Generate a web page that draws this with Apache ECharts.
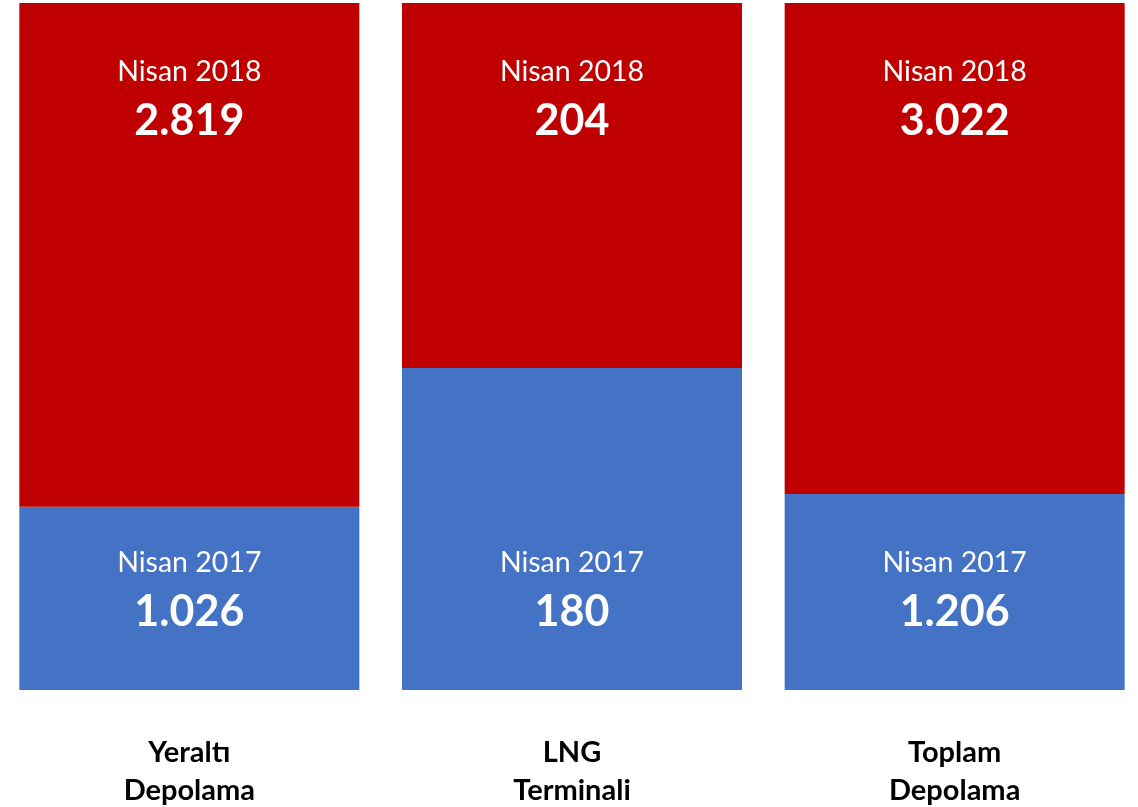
<!DOCTYPE html>
<html>
<head>
<meta charset="utf-8">
<script src="https://cdn.jsdelivr.net/npm/echarts@6/dist/echarts.min.js"></script>
<style>
  html, body { margin: 0; padding: 0; background: #fff; }
  #chart { width: 1138px; height: 807px; }
</style>
</head>
<body>
<div id="chart"></div>
<script>
// Depolama kapasitesi, Nisan 2017 vs Nisan 2018
const categories = ['Yeraltı\nDepolama', 'LNG\nTerminali', 'Toplam\nDepolama'];
const values2017 = [1026, 180, 1206];
const values2018 = [2819, 204, 3022];
const seriesNames = ['Nisan 2017', 'Nisan 2018'];

const FONT = 'Lato, "Open Sans", sans-serif';

// 100% stacked: each column normalised to its own total
const share = (arr, i) => arr[i] / (values2017[i] + values2018[i]) * 100;
const fmt = (v) => v.toLocaleString('de-DE');

function seriesData(arr) {
  return arr.map((v, i) => ({ value: share(arr, i), raw: v }));
}

function labelFor(name, position, distance) {
  return {
    show: true,
    position,
    distance,
    formatter: (p) => '{a|' + name + '}\n{b|' + fmt(p.data.raw) + '}',
    rich: {
      a: { color: '#fff', fontSize: 28.5, fontFamily: FONT, lineHeight: 46 },
      b: { color: '#fff', fontSize: 43, fontWeight: 'bold', fontFamily: FONT, lineHeight: 52 },
    },
  };
}

const chart = echarts.init(document.getElementById('chart'), null, { renderer: 'canvas' });
chart.setOption({
  backgroundColor: '#fff',
  animation: false,
  grid: { left: -2, right: -8, top: 3, bottom: 117, outerBoundsMode: 'none', containLabel: false },
  xAxis: {
    type: 'category',
    data: categories,
    axisLine: { show: false },
    axisTick: { show: false },
    axisLabel: {
      margin: 44,
      color: '#000',
      fontSize: 29,
      fontWeight: 'bold',
      fontFamily: FONT,
      lineHeight: 38,
    },
  },
  yAxis: { type: 'value', min: 0, max: 100, show: false, splitLine: { show: false } },
  series: [
    {
      name: seriesNames[0],
      type: 'bar',
      stack: 'total',
      barWidth: 340,
      itemStyle: { color: '#4472C4' },
      label: labelFor(seriesNames[0], 'insideBottom', 52),
      data: seriesData(values2017),
    },
    {
      name: seriesNames[1],
      type: 'bar',
      stack: 'total',
      barWidth: 340,
      itemStyle: { color: '#C00000' },
      label: labelFor(seriesNames[1], 'insideTop', 46),
      data: seriesData(values2018),
    },
  ],
});
</script>
</body>
</html>
